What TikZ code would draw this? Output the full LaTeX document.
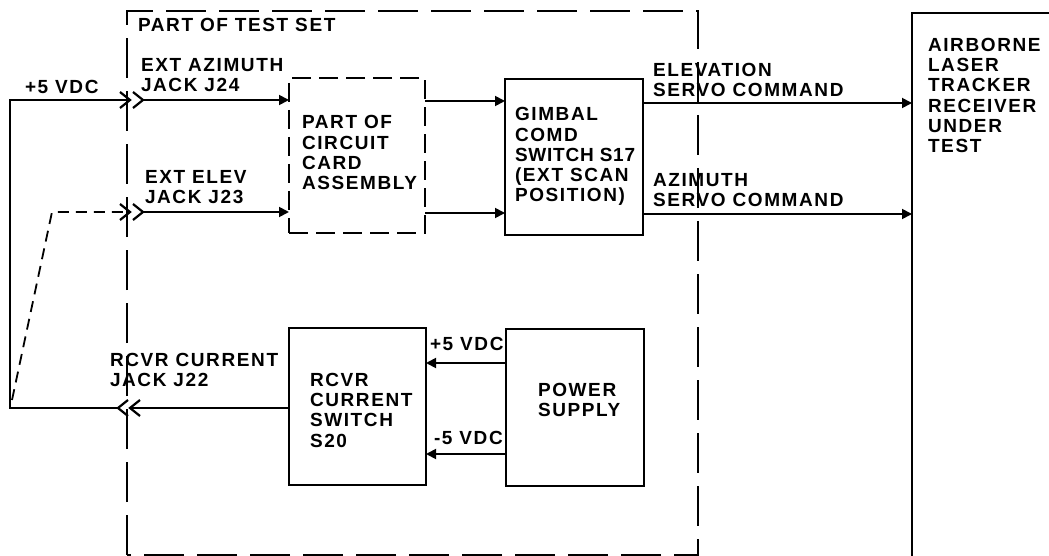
\documentclass[tikz,border=0pt]{standalone}
\usepackage{fontspec}
\setmainfont{Liberation Sans}[LetterSpace=8.5]
\usetikzlibrary{arrows.meta}
\newcommand{\lblfont}{\fontsize{19}{20.3}\selectfont\bfseries}
\begin{document}
\begin{tikzpicture}[x=1pt,y=-1pt,
  lbl/.style={inner sep=0pt, outer sep=0pt, anchor=north west, align=left, font=\lblfont},
  blk/.style={draw, line width=2.6pt, inner sep=0pt, outer sep=0pt, anchor=north west},
  dashblk/.style={blk, dash pattern=on 19pt off 8pt},
  conn/.style={line width=1.8pt, -{Triangle[length=10pt,width=10pt]}},
  wire/.style={line width=1.8pt},
  chev/.style={line width=2.2pt, line join=miter},
  frame/.style={line width=2.6pt, dash pattern=on 40pt off 13pt},
  dut/.style={line width=2.8pt}]
\useasboundingbox (0,0) rectangle (1049,556);

% part of test set frame
\draw[frame] (127,555) -- (127,11) -- (698,11) -- (698,555) -- cycle;
\node[lbl] (tsLbl) at (138,18) {PART OF TEST SET};

% unit under test
\coordinate (dutBot) at (912,556);
\coordinate (dutTop) at (912,13);
\draw[dut] (dutBot) -- (dutTop) -- (1049,13);
\node[lbl] (airLbl) at (928,38) {AIRBORNE\\LASER\\TRACKER\\RECEIVER\\UNDER\\TEST};

% blocks
\node[dashblk, minimum width=136pt, minimum height=155pt] (card) at (289,78) {};
\node[lbl] (cardLbl) at (302,115.5) {PART OF\\CIRCUIT\\CARD\\ASSEMBLY};
\node[blk, minimum width=138pt, minimum height=156pt] (gimbal) at (505,79) {};
\node[lbl] (gimLbl) at (515,107.5) {GIMBAL\\COMD\\{\addfontfeatures{LetterSpace=4}SWITCH S17}\\(EXT SCAN\\POSITION)};
\node[blk, minimum width=137pt, minimum height=157pt] (rsw) at (289,328) {};
\node[lbl] (rswLbl) at (310,373) {RCVR\\CURRENT\\SWITCH\\S20};
\node[blk, minimum width=138pt, minimum height=157pt] (psu) at (506,329) {};
\node[lbl] (psLbl) at (538,383) {POWER\\SUPPLY};

% jacks
\coordinate (jA1) at (130,100);
\coordinate (jA2) at (143,100);
\coordinate (jE1) at (130,212);
\coordinate (jE2) at (143,212);
\coordinate (jR1) at (118,408);
\coordinate (jR2) at (130,408);
\foreach \j in {jA1,jA2,jE1,jE2}{
  \draw[chev] ([shift={(-10,-8)}]\j) -- (\j) -- ([shift={(-10,8)}]\j);
}
\foreach \j in {jR1,jR2}{
  \draw[chev] ([shift={(10,-8)}]\j) -- (\j) -- ([shift={(10,8)}]\j);
}
\node[lbl] (azLbl) at (141,58.5) {EXT AZIMUTH\\JACK J24};
\node[lbl] (elLbl) at (145,170.5) {EXT ELEV\\JACK J23};
\node[lbl] (rcLbl) at (110,353) {RCVR CURRENT\\JACK J22};
\node[lbl] (p5Lbl) at (25,80) {+5 VDC};

% external wiring
\coordinate (lc) at (10,408);
\draw[wire] (jR1) -- (lc) |- (jA1);
\coordinate (d0) at (12,400);
\coordinate (d1) at (52,212);
\draw[wire, dash pattern=on 11pt off 7pt] (d0) -- (d1) -- (jE1);

% signal paths
\draw[conn] (jA2) -- (card.west |- jA2);
\draw[conn] (jE2) -- (card.west |- jE2);
\coordinate (cOut1) at ([yshift=-23pt]card.north east);
\coordinate (cOut2) at ([yshift=-135pt]card.north east);
\draw[conn] (cOut1) -- (gimbal.west |- cOut1);
\draw[conn] (cOut2) -- (gimbal.west |- cOut2);
\coordinate (gEl) at ([yshift=-24pt]gimbal.north east);
\coordinate (gAz) at ([yshift=-135pt]gimbal.north east);
\draw[conn] (gEl) -- (dutTop |- gEl);
\draw[conn] (gAz) -- (dutTop |- gAz);
\node[lbl] (elOut) at (653,63) {ELEVATION\\SERVO COMMAND};
\node[lbl] (azOut) at (653,173.5) {AZIMUTH\\SERVO COMMAND};

% power
\coordinate (pP) at ([yshift=-34pt]psu.north west);
\coordinate (pM) at ([yshift=-125pt]psu.north west);
\draw[conn] (pP) -- (rsw.east |- pP);
\draw[conn] (pM) -- (rsw.east |- pM);
\node[lbl] (p5b) at (430,337) {+5 VDC};
\node[lbl] (m5b) at (434,431) {-5 VDC};

% receiver current
\draw[wire] (rsw.west |- jR2) -- (jR2);
\end{tikzpicture}
\end{document}
